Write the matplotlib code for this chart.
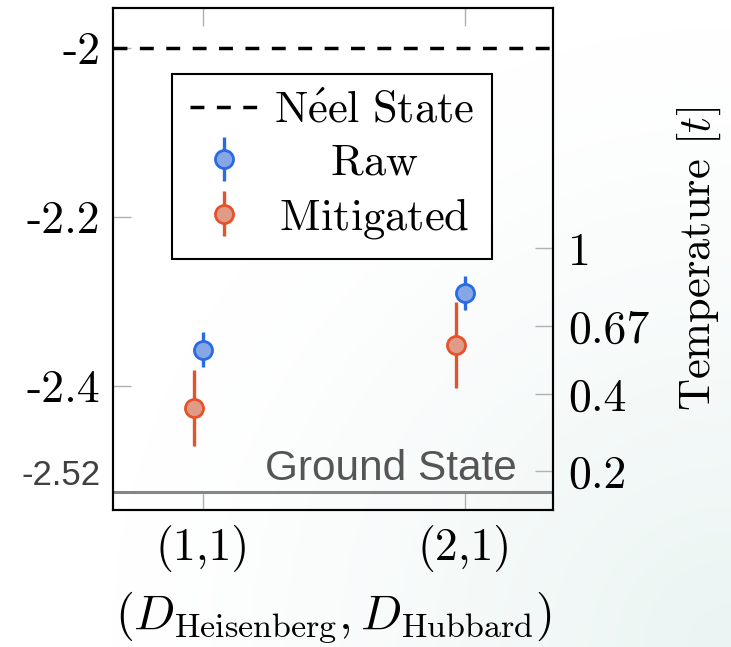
import numpy as np
import matplotlib
matplotlib.use("Agg")
import matplotlib.pyplot as plt
from matplotlib.ticker import FixedLocator, FixedFormatter

plt.rcParams["mathtext.fontset"] = "cm"
plt.rcParams["font.family"] = ["cmr10", "DejaVu Serif"]
plt.rcParams["axes.unicode_minus"] = False
plt.rcParams["axes.formatter.use_mathtext"] = True

# --- data -------------------------------------------------------------
configs = ["(1,1)", "(2,1)"]
raw_energy = [-2.357, -2.290]
raw_err = [0.021, 0.020]
mitigated_energy = [-2.426, -2.351]
mitigated_err = [0.045, 0.051]
neel_energy = -2.0
ground_energy = -2.5249
energy_ticks = [-2.0, -2.2, -2.4]
temperature_labels = ["1", "0.67", "0.4", "0.2"]
temperature_energy = [-2.237, -2.329, -2.410, -2.501]

raw_color = "#2a6be3"
mit_color = "#e4532a"

fig = plt.figure(figsize=(7.31, 6.47), dpi=100)

# soft background wash towards the lower right corner
bg = fig.add_axes([0, 0, 1, 1], zorder=-10)
h, w = 647, 731
yy, xx = np.mgrid[0:h, 0:w]
dist = np.hypot(xx - w, yy - h)
t = np.clip(1 - dist / 620.0, 0, 1) ** 1.3
tint = np.array([234, 244, 242]) / 255.0
img = (1 - t[..., None]) * 1.0 + t[..., None] * tint
bg.imshow(img, aspect="auto", extent=[0, 1, 0, 1], origin="upper")
bg.axis("off")

ax = fig.add_axes([113 / 731, 1 - 510 / 647, 440 / 731, 502 / 647])
ax.set_facecolor("none")

x = np.arange(len(configs))
offset = -0.035

ax.axhline(neel_energy, color="black", lw=2.5, dashes=(4, 3.6), zorder=2,
           label=r"$\mathrm{N\acute{e}el\ State}$")
ax.axhline(ground_energy, color="#858585", lw=2.2, zorder=2)

ax.errorbar(x, raw_energy, yerr=raw_err, fmt="o", color=raw_color,
            mfc="#86a6e6", mec=raw_color, ms=13, mew=2.0,
            elinewidth=2.4, capsize=0, zorder=4,
            label=r"$\hspace{1.45}\mathrm{Raw}$")
ax.errorbar(x + offset, mitigated_energy, yerr=mitigated_err, fmt="o",
            color=mit_color, mfc="#e09a88", mec=mit_color,
            ms=13, mew=2.0, elinewidth=2.4, capsize=0, zorder=3,
            label=r"$\hspace{0.15}\mathrm{Mitigated}$")

ax.set_xlim(-0.343, 1.336)
ax.set_ylim(-2.5467, -1.9527)

ax.xaxis.set_major_locator(FixedLocator(x))
ax.xaxis.set_major_formatter(FixedFormatter(configs))
ax.yaxis.set_major_locator(FixedLocator(energy_ticks + [ground_energy]))
ax.yaxis.set_major_formatter(FixedFormatter(
    [f"{v:g}" for v in energy_ticks] + [f"{ground_energy:.2f}"]))

ax.tick_params(axis="both", direction="in", length=13, width=1.0,
               color="#b0b0b0", labelsize=33, top=True, pad=9)
ax.tick_params(axis="x", pad=11)
for sp in ax.spines.values():
    sp.set_linewidth(1.5)

gs_label = ax.get_yticklabels()[-1]
gs_label.set_fontfamily("Liberation Sans")
gs_label.set_fontsize(25)
gs_label.set_color("#404040")
gs_label.set_verticalalignment("bottom")

ax.annotate("Ground State", xy=(0.918, ground_energy),
            xycoords=("axes fraction", "data"), xytext=(0, 8),
            textcoords="offset points", ha="right", va="baseline",
            fontsize=30.5, family="Liberation Sans", color="#555555")

ax.set_xlabel(r"$(D_{\mathrm{Heisenberg}}, D_{\mathrm{Hubbard}})$",
              fontsize=35, labelpad=12)

# temperature scale on the right
ax2 = ax.twinx()
ax2.set_ylim(ax.get_ylim())
ax2.yaxis.set_major_locator(FixedLocator(temperature_energy))
ax2.yaxis.set_major_formatter(FixedFormatter(temperature_labels))
ax2.tick_params(axis="y", direction="in", length=13, width=1.0,
                color="#b0b0b0", labelsize=33, pad=11)
ax2.set_ylabel(r"Temperature [$t$]", fontsize=32, labelpad=18)
for sp in ax2.spines.values():
    sp.set_linewidth(1.5)

leg = ax.legend(loc="upper left", bbox_to_anchor=(0.134, 0.869),
                fontsize=32, frameon=True, fancybox=False,
                edgecolor="black", framealpha=1.0, handlelength=1.55,
                handletextpad=0.35, labelspacing=0.27, borderpad=0.4,
                borderaxespad=0)
leg.get_frame().set_linewidth(1.5)

fig.savefig("out.png", dpi=100)
